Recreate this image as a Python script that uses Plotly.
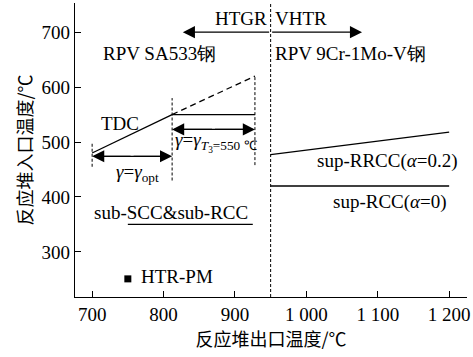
import plotly.graph_objects as go

# Reactor outlet temperature (x) vs. inlet temperature (y), °C
tdc_x = [700, 812]
tdc_y = [480, 550]
tdc_ext_x = [812, 928]
tdc_ext_y = [550, 620]
gamma_t3_x = [812, 928]
gamma_t3_y = [550, 550]
sub_x = [750, 925]
sub_y = [350, 350]
rrcc_x = [950, 1200]
rrcc_y = [477, 518]
rcc_x = [950, 1200]
rcc_y = [420, 420]
htrpm_x = [750]
htrpm_y = [251]

# vertical guide lines: (x, y_low, y_high)
guides = [(700, 455, 498), (812, 430, 580), (928, 458, 620), (950, 218, 753)]

# range arrows: (x_start, x_end, y)
ranges = [(700, 812, 474), (812, 928, 523)]

x_ticks = [700, 800, 900, 1000, 1100, 1200]
x_tick_text = ["700", "800", "900", "1 000", "1 100", "1 200"]
y_ticks = [300, 400, 500, 600, 700]

SERIF = "Liberation Serif, Times New Roman, serif"
CJK = "Noto Sans CJK SC, Liberation Serif, serif"
BLK = "black"

fig = go.Figure()

def line(x, y, dash="solid", width=1.3):
    fig.add_trace(go.Scatter(x=x, y=y, mode="lines",
                             line=dict(color=BLK, width=width, dash=dash),
                             showlegend=False, hoverinfo="skip"))

line(tdc_x, tdc_y)
line(tdc_ext_x, tdc_ext_y, dash="6px,4px")
line(gamma_t3_x, gamma_t3_y)
line(sub_x, sub_y)
line(rrcc_x, rrcc_y)
line(rcc_x, rcc_y)
for gx, y0, y1 in guides:
    line([gx, gx], [y0, y1], dash="3px,2px", width=1)
for x0, x1, ry in ranges:
    line([x0 + 3, x1 - 3], [ry, ry], width=1.2)

fig.add_trace(go.Scatter(x=htrpm_x, y=htrpm_y, mode="markers",
                         marker=dict(symbol="square", size=7, color=BLK),
                         showlegend=False, hoverinfo="skip"))

anns = []

def arrow(x0, x1, y):
    # arrow pointing to (x1, y) from (x0, y)
    anns.append(dict(x=x1, y=y, ax=x0, ay=y, xref="x", yref="y",
                     axref="x", ayref="y", text="", showarrow=True,
                     arrowhead=2, arrowsize=2.2, arrowwidth=1.1,
                     arrowcolor=BLK, standoff=0, startstandoff=0))

for x0, x1, ry in ranges:
    mid = (x0 + x1) / 2
    arrow(mid, x0, ry)
    arrow(mid, x1, ry)
arrow(950, 827, 700)
arrow(950, 1078, 700)

def text(x, y, s, size=19, anchor="left", font=SERIF):
    anns.append(dict(x=x, y=y, xref="x", yref="y", text=s, showarrow=False,
                     xanchor=anchor, yanchor="middle",
                     font=dict(family=font, size=size, color=BLK)))

text(947, 725, "HTGR", anchor="right")
text(953, 725, "VHTR")
text(713, 662, "RPV SA533钢")
text(953, 662, "RPV 9Cr-1Mo-V钢")
text(710, 533, "TDC")
text(763, 444, "<i>γ</i>=<i>γ</i><sub>opt</sub>", anchor="center")
text(813, 500, "<i>γ</i>=<i>γ</i><sub><i>T</i><sub>3</sub>=550 ℃</sub>", size=19)
text(1012, 465, "sup-RRCC(<i>α</i>=0.2)")
text(1035, 391, "sup-RCC(<i>α</i>=0)")
text(700, 371, "sub-SCC&sub-RCC")
text(766, 255, "HTR-PM")

fig.update_layout(
    width=473, height=357,
    margin=dict(l=75, r=6, t=3, b=60),
    paper_bgcolor="white", plot_bgcolor="white",
    annotations=anns,
    font=dict(family=SERIF, size=19, color=BLK),
    xaxis=dict(range=[676, 1225], tickvals=x_ticks, ticktext=x_tick_text,
               ticks="inside", ticklen=6, tickwidth=1, tickcolor=BLK,
               showline=True, linecolor=BLK, linewidth=1.3, showgrid=False,
               zeroline=False, tickfont=dict(family=SERIF, size=19),
               title=dict(text="反应堆出口温度/℃", standoff=4,
                          font=dict(family=CJK, size=18))),
    yaxis=dict(range=[218, 753], tickvals=y_ticks,
               ticks="inside", ticklen=6, tickwidth=1, tickcolor=BLK,
               showline=True, linecolor=BLK, linewidth=1.3, showgrid=False,
               zeroline=False, tickfont=dict(family=SERIF, size=19),
               title=dict(text="反应堆入口温度/℃", standoff=4,
                          font=dict(family=CJK, size=18))),
)

fig.write_html("out.html")
